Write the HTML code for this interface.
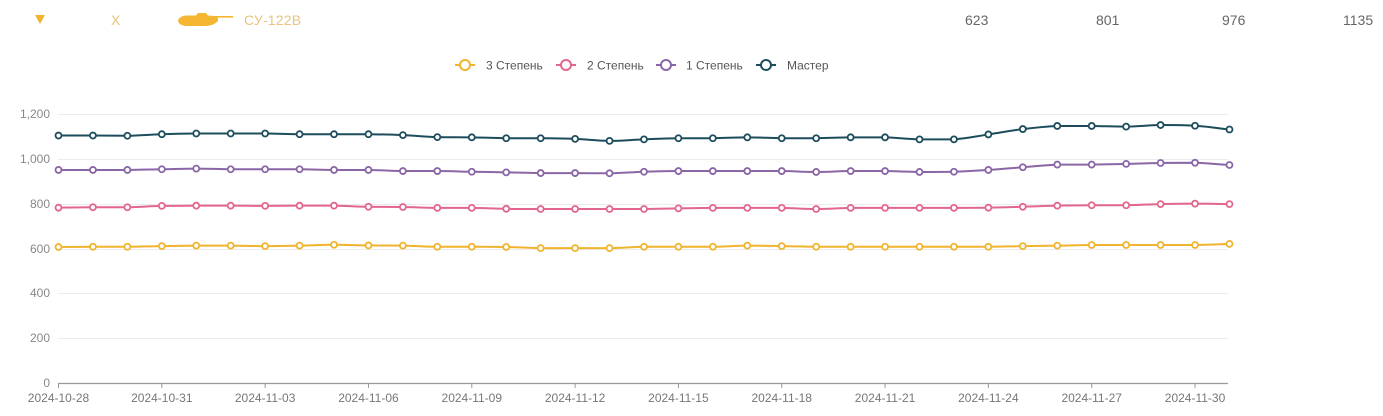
<!DOCTYPE html>
<html>
<head>
<meta charset="utf-8">
<style>
  html,body{margin:0;padding:0;background:#fff;}
  body{width:1383px;height:416px;overflow:hidden;position:relative;font-family:"Liberation Sans","DejaVu Sans",sans-serif;}
  svg{position:absolute;left:0;top:0;}
  .hdr{position:absolute;top:11px;font-size:14px;line-height:18px;}
  .num{color:#666;}
</style>
</head>
<body>
<div class="hdr" style="left:111px;color:#e9c47e;">X</div>
<div class="hdr" style="left:244px;color:#e9c47e;letter-spacing:0.2px;">СУ-122В</div>
<div class="hdr num" style="left:965px;">623</div>
<div class="hdr num" style="left:1096px;">801</div>
<div class="hdr num" style="left:1222px;">976</div>
<div class="hdr num" style="left:1343px;">1135</div>

<svg id="c" width="1383" height="416" xmlns="http://www.w3.org/2000/svg">
  <!-- header icons -->
  <polygon points="35,15 45,15 40,24" fill="#f2b233"/>
  <g fill="#f5b731">
    <path d="M178,20 Q180,16 186,15.5 L196,15.5 L198,13 L206,13 L208,15.5 L214,16 L218,18 L218,21 Q214,25.5 206,26 L186,26 Q178,25 178,20 Z"/>
    <rect x="208" y="16" width="25" height="1.6"/>
  </g>

  <!-- legend -->
  <g font-size="12" fill="#555">
    <line x1="455" y1="65" x2="475" y2="65" stroke="#f0b42e" stroke-width="2"/>
    <circle cx="465" cy="65" r="5" fill="#fff" stroke="#f0b42e" stroke-width="2"/>
    <text x="486" y="69.5">3 Степень</text>
    <line x1="556" y1="65" x2="576" y2="65" stroke="#e3668c" stroke-width="2"/>
    <circle cx="566" cy="65" r="5" fill="#fff" stroke="#e3668c" stroke-width="2"/>
    <text x="587" y="69.5">2 Степень</text>
    <line x1="656" y1="65" x2="676" y2="65" stroke="#8a66a6" stroke-width="2"/>
    <circle cx="666" cy="65" r="5" fill="#fff" stroke="#8a66a6" stroke-width="2"/>
    <text x="686" y="69.5">1 Степень</text>
    <line x1="756" y1="65" x2="776" y2="65" stroke="#1d4d5d" stroke-width="2"/>
    <circle cx="766" cy="65" r="5" fill="#fff" stroke="#1d4d5d" stroke-width="2"/>
    <text x="787" y="69.5">Мастер</text>
  </g>

  <!-- grid -->
  <g stroke="#ececec" stroke-width="1">
    <line x1="58" y1="114.5" x2="1228" y2="114.5"/>
    <line x1="58" y1="159.5" x2="1228" y2="159.5"/>
    <line x1="58" y1="204.5" x2="1228" y2="204.5"/>
    <line x1="58" y1="249.5" x2="1228" y2="249.5"/>
    <line x1="58" y1="293.5" x2="1228" y2="293.5"/>
    <line x1="58" y1="338.5" x2="1228" y2="338.5"/>
  </g>
  <g font-size="12" fill="#888" text-anchor="end">
    <text x="50" y="118">1,200</text>
    <text x="50" y="163">1,000</text>
    <text x="50" y="208">800</text>
    <text x="50" y="253">600</text>
    <text x="50" y="297">400</text>
    <text x="50" y="342">200</text>
    <text x="50" y="387">0</text>
  </g>
  <line x1="58" y1="383.5" x2="1228" y2="383.5" stroke="#999" stroke-width="1.2"/>
  <g id="ticks" stroke="#999" stroke-width="1"></g>
  <g id="xl" font-size="12" fill="#777" text-anchor="middle"></g>
  <g id="series"></g>
</svg>

<script>
(function(){
  var X0=58.5, DX=34.44, Y0=383, K=268/1200;
  var ns="http://www.w3.org/2000/svg";
  var ticks=document.getElementById('ticks');
  var xl=document.getElementById('xl');
  var labels=["2024-10-28","2024-10-31","2024-11-03","2024-11-06","2024-11-09","2024-11-12","2024-11-15","2024-11-18","2024-11-21","2024-11-24","2024-11-27","2024-11-30"];
  for(var j=0;j<labels.length;j++){
    var x=X0+DX*3*j;
    var l=document.createElementNS(ns,'line');
    l.setAttribute('x1',x);l.setAttribute('x2',x);
    l.setAttribute('y1',383);l.setAttribute('y2',388);
    ticks.appendChild(l);
    var t=document.createElementNS(ns,'text');
    t.setAttribute('x',x);t.setAttribute('y',402);
    t.textContent=labels[j];
    xl.appendChild(t);
  }
  var data=[
    {c:"#f0b42e",v:[609,610,610,613,615,615,613,615,619,616,615,610,610,609,604,604,604,610,610,610,615,613,610,610,610,610,610,610,613,615,618,618,618,618,623]},
    {c:"#e3668c",v:[785,787,787,793,794,794,793,794,794,789,788,784,784,780,779,779,779,779,782,784,784,784,779,784,784,784,784,785,789,794,796,796,801,803,801]},
    {c:"#8a66a6",v:[954,954,954,957,960,957,957,957,954,954,949,949,946,943,940,940,939,946,949,949,949,949,945,949,949,945,946,954,966,978,978,981,985,986,976]},
    {c:"#1d4d5d",v:[1108,1108,1107,1114,1117,1117,1117,1114,1114,1114,1110,1101,1100,1096,1096,1093,1084,1091,1096,1096,1100,1096,1096,1100,1100,1091,1091,1113,1137,1151,1151,1148,1155,1152,1135]}
  ];
  var g=document.getElementById('series');
  var S=0.4;
  data.forEach(function(s){
    var pts=s.v.map(function(v,i){return [X0+DX*i, Y0-v*K];});
    var d="M"+pts[0][0].toFixed(2)+","+pts[0][1].toFixed(2);
    var cp0=[pts[0][0],pts[0][1]];
    for(var i=1;i<pts.length;i++){
      var p=pts[i], pr=pts[i-1], nx=(i<pts.length-1)?pts[i+1]:p;
      var vx=nx[0]-pr[0], vy=nx[1]-pr[1];
      var l0=Math.hypot(p[0]-pr[0],p[1]-pr[1]), l1=Math.hypot(nx[0]-p[0],nx[1]-p[1]);
      var r=(l0+l1)>0? l1/(l0+l1):0.5;
      var cp1=[p[0]-vx*S*(1-r), p[1]-vy*S*(1-r)];
      var ncp=[p[0]+vx*S*r, p[1]+vy*S*r];
      // clamp
      cp1[1]=Math.min(Math.max(cp1[1],Math.min(p[1],pr[1])),Math.max(p[1],pr[1]));
      ncp[1]=Math.min(Math.max(ncp[1],Math.min(p[1],nx[1])),Math.max(p[1],nx[1]));
      d+=" C"+cp0[0].toFixed(2)+","+cp0[1].toFixed(2)+" "+cp1[0].toFixed(2)+","+cp1[1].toFixed(2)+" "+p[0].toFixed(2)+","+p[1].toFixed(2);
      cp0=ncp;
    }
    var path=document.createElementNS(ns,'path');
    path.setAttribute('d',d);path.setAttribute('fill','none');
    path.setAttribute('stroke',s.c);path.setAttribute('stroke-width','2');
    g.appendChild(path);
    pts.forEach(function(p){
      var c=document.createElementNS(ns,'circle');
      c.setAttribute('cx',p[0]);c.setAttribute('cy',p[1]);c.setAttribute('r','3');
      c.setAttribute('fill','#fff');c.setAttribute('stroke',s.c);c.setAttribute('stroke-width','1.8');
      g.appendChild(c);
    });
  });
})();
</script>
</body>
</html>
